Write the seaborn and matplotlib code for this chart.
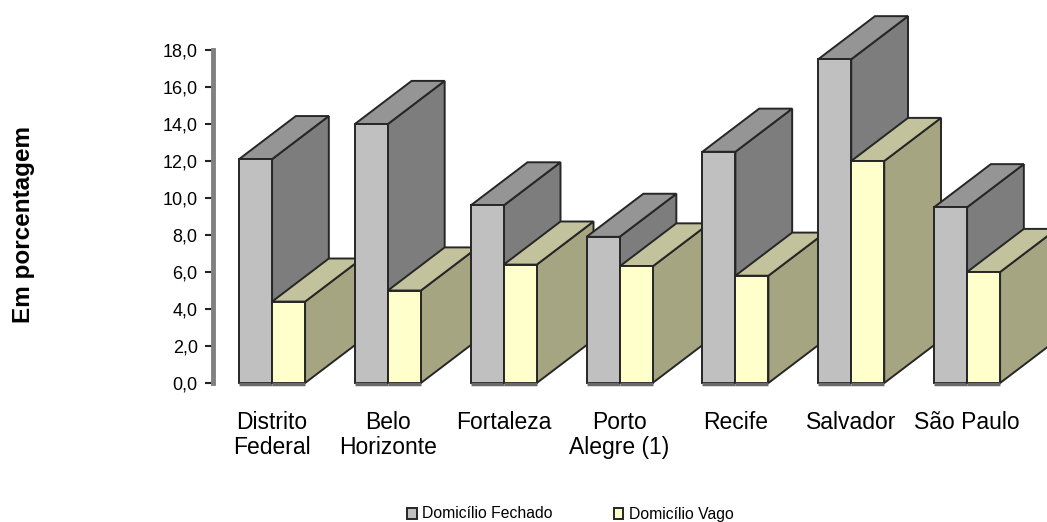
import pandas as pd
import matplotlib.pyplot as plt
import seaborn as sns

CIDADES  = ['Distrito\nFederal', 'Belo\nHorizonte', 'Fortaleza', 'Porto\nAlegre (1)',
            'Recife', 'Salvador', 'São Paulo']
FECHADO  = [12.1, 14.0, 9.6, 7.9, 12.5, 17.5, 9.5]
VAGO     = [4.4, 5.0, 6.4, 6.3, 5.8, 12.0, 6.0]
YTICKS   = [0, 2, 4, 6, 8, 10, 12, 14, 16, 18]
SERIES   = ['Domicílio Fechado', 'Domicílio Vago']

# profundidade do efeito 3D, em unidades de dados
DEPTH_X = 0.49
DEPTH_Y = 2.33
# frente, lado, topo
CORES = [('#c0c0c0', '#7d7d7d', '#959595'),
         ('#ffffcc', '#a5a582', '#c2c29c')]
EDGE = '#262626'

W, H = 1047, 522
sns.set_theme(style='white')
plt.rcParams['font.family'] = ['Liberation Sans', 'DejaVu Sans']
plt.rcParams['text.color'] = 'black'

df = pd.DataFrame({
    'cidade': CIDADES * 2,
    'serie': [SERIES[0]] * len(CIDADES) + [SERIES[1]] * len(CIDADES),
    'valor': FECHADO + VAGO,
})

fig = plt.figure(figsize=(W / 100, H / 100), dpi=100)
ax = fig.add_axes([213 / W, 1 - 383 / H, (W - 213) / W, (383 - 50) / H])
sns.barplot(data=df, x='cidade', y='valor', hue='serie', order=CIDADES, hue_order=SERIES,
            palette=[c[0] for c in CORES], width=0.57, saturation=1, errorbar=None,
            edgecolor=EDGE, linewidth=1.4, ax=ax)

for h, container in enumerate(ax.containers):
    for i, bar in enumerate(container):
        x0, x1 = bar.get_x(), bar.get_x() + bar.get_width()
        top = bar.get_height()
        z = 3 + i * 4 + h * 2
        bar.set_zorder(z + 1)
        bar.set_clip_on(False)
        # lado direito
        ax.fill([x1, x1 + DEPTH_X, x1 + DEPTH_X, x1],
                [0, DEPTH_Y, top + DEPTH_Y, top],
                facecolor=CORES[h][1], edgecolor=EDGE, linewidth=1.4, zorder=z, clip_on=False)
        # topo
        ax.fill([x0, x0 + DEPTH_X, x1 + DEPTH_X, x1],
                [top, top + DEPTH_Y, top + DEPTH_Y, top],
                facecolor=CORES[h][2], edgecolor=EDGE, linewidth=1.4, zorder=z, clip_on=False)
        # base
        ax.plot([x0, x1], [-0.06, -0.06], color='#6a6a6a', linewidth=2.5,
                solid_capstyle='butt', zorder=z + 1, clip_on=False)

ax.set_xlim(-0.51, 6.69)
ax.set_ylim(0, 18)
ax.set_yticks(YTICKS)
ax.set_yticklabels([f'{v:.1f}'.replace('.', ',') for v in YTICKS])
ax.set_xlabel('')
ax.set_ylabel('')
ax.tick_params(axis='y', length=6, width=1.5, color='#222222', labelsize=13, labelcolor='black',
               pad=5, left=True)
ax.tick_params(axis='x', length=0, labelsize=16.5, labelcolor='black', pad=20)
for t in ax.get_xticklabels():
    t.set_linespacing(1.15)
for s in ['top', 'right', 'bottom']:
    ax.spines[s].set_visible(False)
ax.spines['left'].set_color('#808080')
ax.spines['left'].set_linewidth(3.5)

fig.text(24 / W, 1 - 224 / H, 'Em porcentagem', rotation=90, fontsize=17.5, fontweight='bold',
         ha='center', va='center', color='black')

handles, labels = ax.get_legend_handles_labels()
ax.get_legend().remove()
fig.legend(handles, labels, ncol=2, frameon=False, fontsize=11.3, loc='center left',
           bbox_to_anchor=(393 / W, 1 - 514 / H), handlelength=0.6, handleheight=0.7,
           handletextpad=0.35, columnspacing=3.9, labelcolor='black')

plt.savefig('out.png', dpi=100)
